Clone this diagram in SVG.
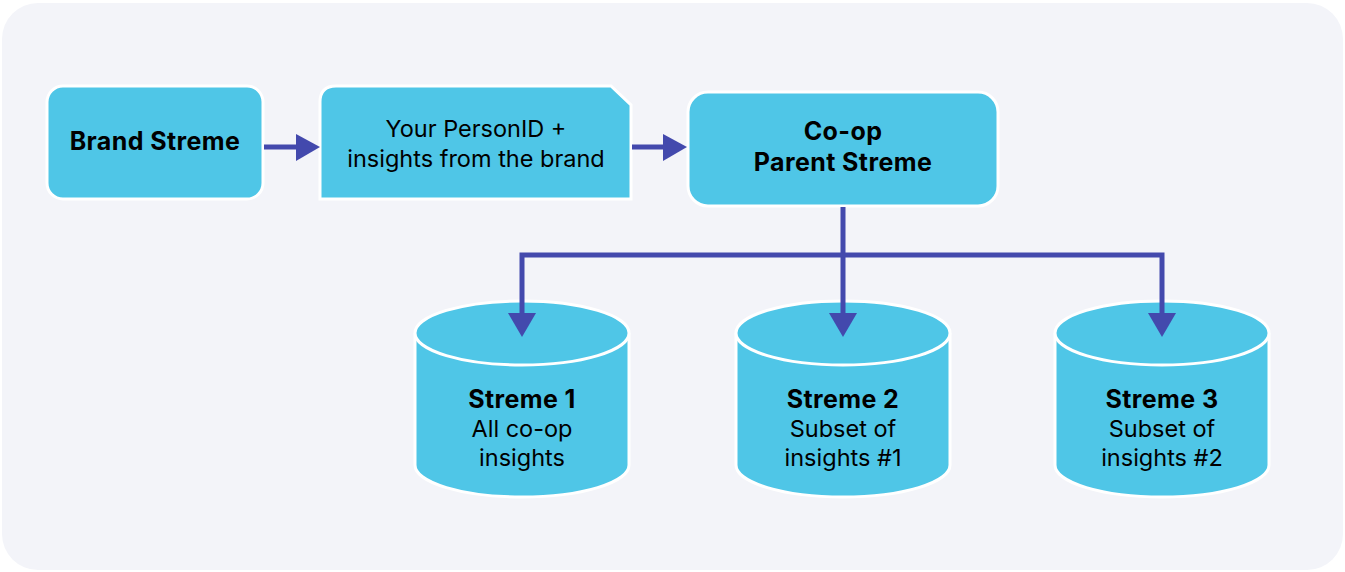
<svg xmlns="http://www.w3.org/2000/svg" width="1345" height="572" viewBox="0 0 1345 572">
<defs>
<style>
.n{fill:#4fc6e7;stroke:#ffffff;stroke-width:3}
.t{font-family:Inter,"Noto Sans",sans-serif;font-size:23.5px;fill:#000;text-anchor:middle}
.b{font-weight:bold;font-size:25px;letter-spacing:0.4px}
.c{stroke:#4349ad;stroke-width:5;fill:none}
.h{fill:#4349ad}
</style>
</defs>
<rect x="0" y="0" width="1345" height="572" fill="#ffffff"/>
<rect x="2" y="3" width="1341" height="567" rx="36" fill="#f3f4f9"/>
<g id="brand">
<rect class="n" x="47" y="86" width="216" height="113" rx="16"/>
<text class="t b" x="155" y="150">Brand Streme</text>
</g>
<g id="personid">
<path class="n" d="M336,86 H611 L631,105 V199 H320 V102 Q320,86 336,86 Z"/>
<text class="t" x="476" y="137">Your PersonID +</text>
<text class="t" x="476" y="167">insights from the brand</text>
</g>
<g id="coop">
<rect class="n" x="688" y="92" width="310" height="114" rx="20"/>
<text class="t b" x="843" y="140">Co-op</text>
<text class="t b" x="843" y="171">Parent Streme</text>
</g>
<g id="streme1">
<path class="n" d="M415,333 V465 A107,32 0 0 0 629,465 V333"/>
<ellipse class="n" cx="522" cy="333" rx="107" ry="32"/>
<text class="t b" x="522" y="408">Streme 1</text>
<text class="t" x="522" y="437">All co-op</text>
<text class="t" x="522" y="466">insights</text>
</g>
<g id="streme2">
<path class="n" d="M736,333 V465 A107,32 0 0 0 950,465 V333"/>
<ellipse class="n" cx="843" cy="333" rx="107" ry="32"/>
<text class="t b" x="843" y="408">Streme 2</text>
<text class="t" x="843" y="437">Subset of</text>
<text class="t" x="843" y="466">insights #1</text>
</g>
<g id="streme3">
<path class="n" d="M1055,333 V465 A107,32 0 0 0 1269,465 V333"/>
<ellipse class="n" cx="1162" cy="333" rx="107" ry="32"/>
<text class="t b" x="1162" y="408">Streme 3</text>
<text class="t" x="1162" y="437">Subset of</text>
<text class="t" x="1162" y="466">insights #2</text>
</g>
<g id="connectors">
<path class="c" d="M264,147 H298"/>
<path class="h" d="M296,134 L320,147 L296,161 Z"/>
<path class="c" d="M632,147 H666"/>
<path class="h" d="M663,134 L687,147 L663,161 Z"/>
<path class="c" d="M843,207 V315"/>
<path class="h" d="M829,313 L857,313 L843,337 Z"/>
<path class="c" d="M522,315 V255 H1162 V315"/>
<path class="h" d="M508,313 L536,313 L522,337 Z"/>
<path class="h" d="M1148,313 L1176,313 L1162,337 Z"/>
</g>
</svg>
